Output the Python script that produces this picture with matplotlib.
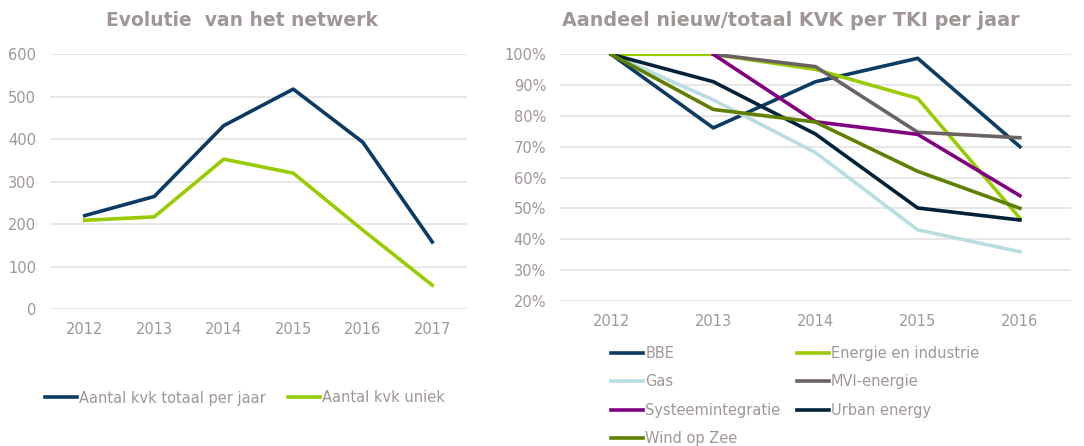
import matplotlib
matplotlib.use("Agg")
import matplotlib.pyplot as plt
from matplotlib.ticker import FixedLocator, PercentFormatter

plt.rcParams['font.family'] = ['DejaVu Sans']

# Left chart: network evolution
years_left = ['2012', '2013', '2014', '2015', '2016', '2017']
kvk_totaal = [220, 265, 432, 518, 393, 158]
kvk_uniek = [209, 217, 353, 320, 186, 56]

# Right chart: share of new/total KVK per TKI
years_right = ['2012', '2013', '2014', '2015', '2016']
bbe = [1.00, 0.761, 0.911, 0.987, 0.700]
energie_industrie = [1.00, 1.00, 0.951, 0.857, 0.468]
gas = [1.00, 0.852, 0.681, 0.430, 0.359]
mvi_energie = [None, 1.00, 0.960, 0.747, 0.729]
systeemintegratie = [None, 1.00, 0.781, 0.740, 0.541]
urban_energy = [1.00, 0.911, 0.741, 0.501, 0.462]
wind_op_zee = [1.00, 0.821, 0.780, 0.620, 0.500]

TEXT = '#A09696'
GRID = '#E3E3E3'
W, H = 1084, 446
FS = 10.5

fig = plt.figure(figsize=(W / 100, H / 100), dpi=100)


def box(x0, y0, x1, y1):
    return [x0 / W, 1 - y1 / H, (x1 - x0) / W, (y1 - y0) / H]


def style(ax):
    for s in ax.spines.values():
        s.set_visible(False)
    ax.grid(axis='y', color=GRID, linewidth=1.2)
    ax.set_axisbelow(True)
    ax.tick_params(length=0, colors=TEXT, labelsize=FS)
    ax.tick_params(axis='x', pad=9.5)
    ax.tick_params(axis='y', pad=10)


# ---- left ----
axl = fig.add_axes(box(50, 54.3, 467, 309))
style(axl)
xl = range(len(years_left))
axl.plot(xl, kvk_totaal, color='#0B3A62', lw=2.6, label='Aantal kvk totaal per jaar')
axl.plot(xl, kvk_uniek, color='#99CC00', lw=2.6, label='Aantal kvk uniek')
axl.set_xlim(-0.5, len(years_left) - 0.5)
axl.set_ylim(0, 600)
axl.yaxis.set_major_locator(FixedLocator(range(0, 601, 100)))
axl.set_xticks(list(xl))
axl.set_xticklabels(years_left)
fig.text(242 / W, 1 - 20 / H, 'Evolutie  van het netwerk', ha='center', va='center',
         fontsize=13.5, fontweight='bold', color=TEXT)
axl.legend(loc='center left', bbox_to_anchor=(45 / W, 1 - 398 / H), bbox_transform=fig.transFigure,
           ncol=2, frameon=False, fontsize=FS, labelcolor=TEXT, handlelength=2.2,
           handletextpad=0.15, columnspacing=1.5, borderpad=0, borderaxespad=0)

# ---- right ----
axr = fig.add_axes(box(560, 54.3, 1071, 300.7))
style(axr)
xr = list(range(len(years_right)))
series = [
    ('BBE', bbe, '#0B3C64'),
    ('Energie en industrie', energie_industrie, '#99CC00'),
    ('Gas', gas, '#B8DEE2'),
    ('MVI-energie', mvi_energie, '#6B6262'),
    ('Systeemintegratie', systeemintegratie, '#800080'),
    ('Urban energy', urban_energy, '#02223A'),
    ('Wind op Zee', wind_op_zee, '#5F8000'),
]
handles = {}
for name, vals, col in series:
    pts = [(x, v) for x, v in zip(xr, vals) if v is not None]
    ln, = axr.plot([p[0] for p in pts], [p[1] for p in pts], color=col, lw=2.6, label=name)
    handles[name] = ln
axr.set_xlim(-0.5, len(years_right) - 0.5)
axr.set_ylim(0.2, 1.0)
axr.yaxis.set_major_locator(FixedLocator([i / 10 for i in range(2, 11)]))
axr.yaxis.set_major_formatter(PercentFormatter(1.0, decimals=0))
axr.set_xticks(xr)
axr.set_xticklabels(years_right)
fig.text(791 / W, 1 - 20 / H, 'Aandeel nieuw/totaal KVK per TKI per jaar', ha='center', va='center',
         fontsize=13.8, fontweight='bold', color=TEXT)
order = ['BBE', 'Gas', 'Systeemintegratie', 'Wind op Zee',
         'Energie en industrie', 'MVI-energie', 'Urban energy']
axr.legend([handles[n] for n in order], order, loc='upper left',
           bbox_to_anchor=(611 / W, 1 - 346 / H), bbox_transform=fig.transFigure,
           ncol=2, frameon=False, fontsize=FS, labelcolor=TEXT, handlelength=2.2,
           handletextpad=0.15, columnspacing=1.1, labelspacing=0.92, borderpad=0, borderaxespad=0)

fig.savefig('out.png', dpi=100)
